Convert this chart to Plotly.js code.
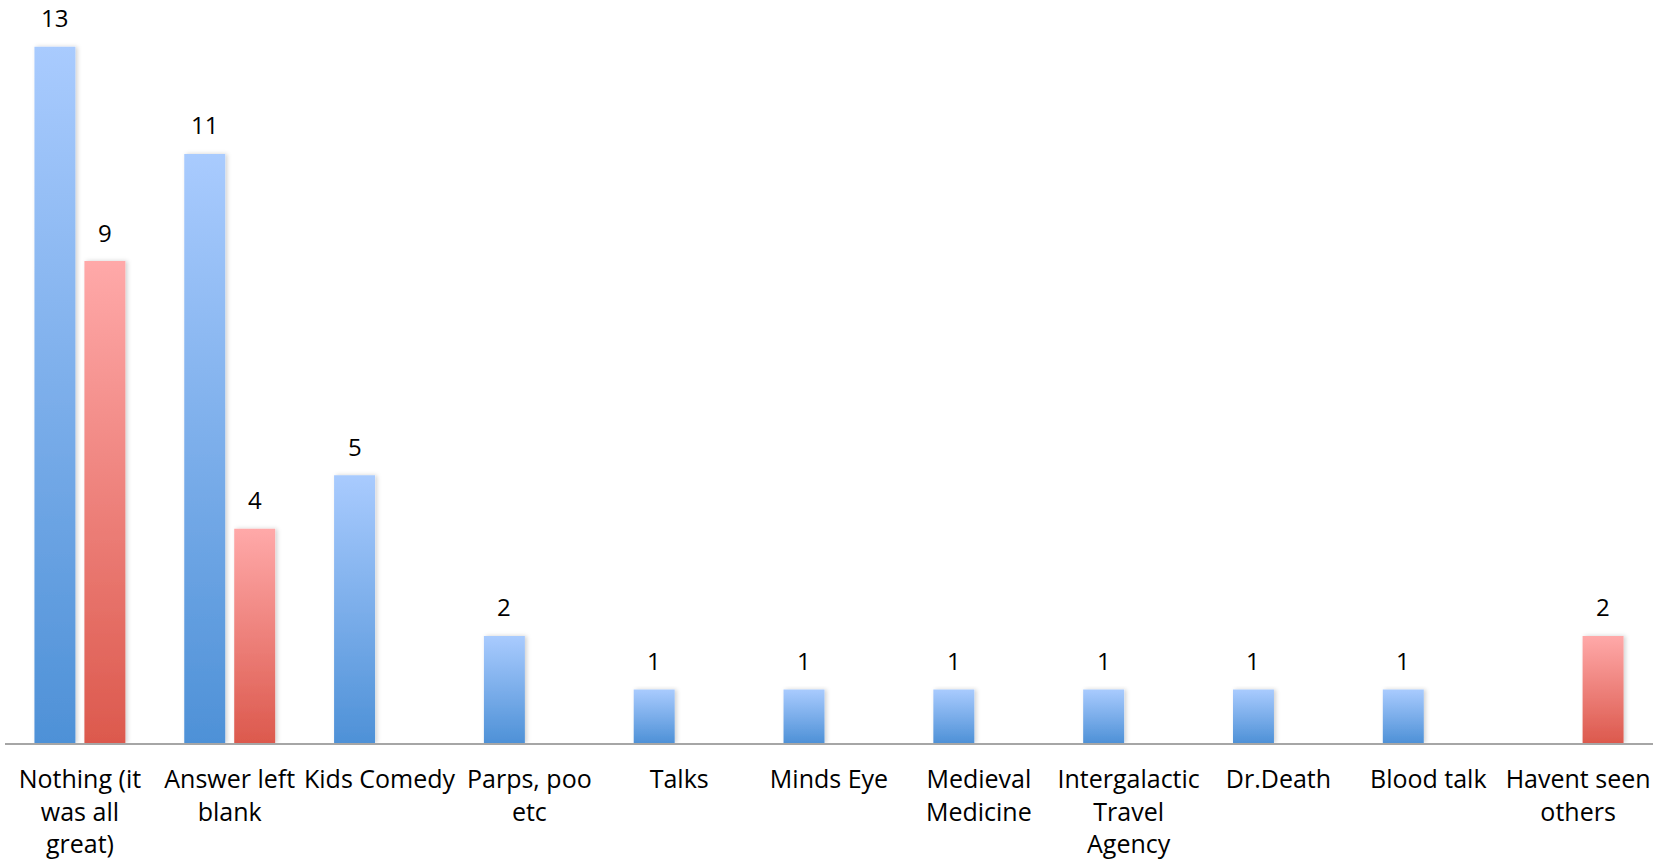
<!DOCTYPE html>
<html>
<head>
<meta charset="utf-8">
<script src="https://cdn.plot.ly/plotly-3.0.1.min.js"></script>
<style>html,body{margin:0;padding:0;background:#fff;}#chart{width:1669px;height:860px;}</style>
</head>
<body>
<div id="chart"></div>
<script>
const categories = ['Nothing (it was all great)', 'Answer left blank', 'Kids Comedy', 'Parps, poo etc', 'Talks', 'Minds Eye', 'Medieval Medicine', 'Intergalactic Travel Agency', 'Dr.Death', 'Blood talk', 'Havent seen others'];
const tickLabels = ['Nothing (it<br>was all<br>great)', 'Answer left<br>blank', 'Kids Comedy', 'Parps, poo<br>etc', 'Talks', 'Minds Eye', 'Medieval<br>Medicine', 'Intergalactic<br>Travel<br>Agency', 'Dr.Death', 'Blood talk', 'Havent seen<br>others'];
const seriesBlue = [13, 11, 5, 2, 1, 1, 1, 1, 1, 1, null];
const seriesRed = [9, 4, null, null, null, null, null, null, null, null, 2];

const BARGAP = 0.333, GROUPGAP = 0.18;
const FONT = 'Open Sans, sans-serif';

const traces = [
  {type: 'bar', name: 'Blue', x: categories, y: seriesBlue, marker: {color: '#7aaeea'}, hoverinfo: 'none'},
  {type: 'bar', name: 'Red', x: categories, y: seriesRed, marker: {color: '#ee8080'}, hoverinfo: 'none'}
];

// data labels positioned over each grouped bar
const slot = (1 - BARGAP) / 2;
const annotations = [];
[seriesBlue, seriesRed].forEach((s, k) => {
  s.forEach((v, i) => {
    if (v === null) return;
    annotations.push({x: i + (k - 0.5) * slot, y: v, xref: 'x', yref: 'y', text: String(v), showarrow: false,
      yanchor: 'middle', yshift: 29, font: {family: FONT, size: 24, color: '#000'}});
  });
});

const layout = {
  width: 1669, height: 860,
  margin: {l: 5, r: 16, t: 20, b: 117},
  paper_bgcolor: '#fff', plot_bgcolor: '#fff',
  showlegend: false,
  barmode: 'group', bargap: BARGAP, bargroupgap: GROUPGAP,
  xaxis: {type: 'category', range: [-0.5, 10.5], tickvals: categories, ticktext: tickLabels,
    showline: true, linecolor: '#a6a6a6', linewidth: 2, ticks: '', showgrid: false, zeroline: false,
    tickfont: {family: FONT, size: 25, color: '#000'}, ticklabelstandoff: 13, fixedrange: true},
  yaxis: {range: [0, 13.5], visible: false, fixedrange: true},
  annotations: annotations
};

Plotly.newPlot('chart', traces, layout, {displayModeBar: false, staticPlot: true}).then(gd => {
  const svg = gd.querySelector('svg.main-svg');
  const ns = 'http://www.w3.org/2000/svg';
  let defs = svg.querySelector('defs');
  if (!defs) { defs = document.createElementNS(ns, 'defs'); svg.insertBefore(defs, svg.firstChild); }
  function grad(id, top, bottom) {
    const g = document.createElementNS(ns, 'linearGradient');
    g.setAttribute('id', id); g.setAttribute('x1', '0'); g.setAttribute('y1', '0'); g.setAttribute('x2', '0'); g.setAttribute('y2', '1');
    [[0, top], [1, bottom]].forEach(([o, c]) => {
      const st = document.createElementNS(ns, 'stop');
      st.setAttribute('offset', o); st.setAttribute('stop-color', c); g.appendChild(st);
    });
    defs.appendChild(g);
  }
  grad('gBlue', '#a9cbfe', '#4e91d7');
  grad('gRed', '#ffa9a9', '#dc594d');
  const f = document.createElementNS(ns, 'filter');
  f.setAttribute('id', 'barShadow'); f.setAttribute('x', '-30%'); f.setAttribute('y', '-5%'); f.setAttribute('width', '160%'); f.setAttribute('height', '110%');
  const ds = document.createElementNS(ns, 'feDropShadow');
  ds.setAttribute('dx', '2'); ds.setAttribute('dy', '0'); ds.setAttribute('stdDeviation', '2'); ds.setAttribute('flood-color', '#000'); ds.setAttribute('flood-opacity', '0.18');
  f.appendChild(ds); defs.appendChild(f);
  const groups = svg.querySelectorAll('g.trace.bars');
  groups.forEach((g, k) => {
    g.querySelectorAll('g.point path').forEach(p => {
      p.style.fill = k === 0 ? 'url(#gBlue)' : 'url(#gRed)';
      p.setAttribute('filter', 'url(#barShadow)');
    });
  });
});
</script>
</body>
</html>
